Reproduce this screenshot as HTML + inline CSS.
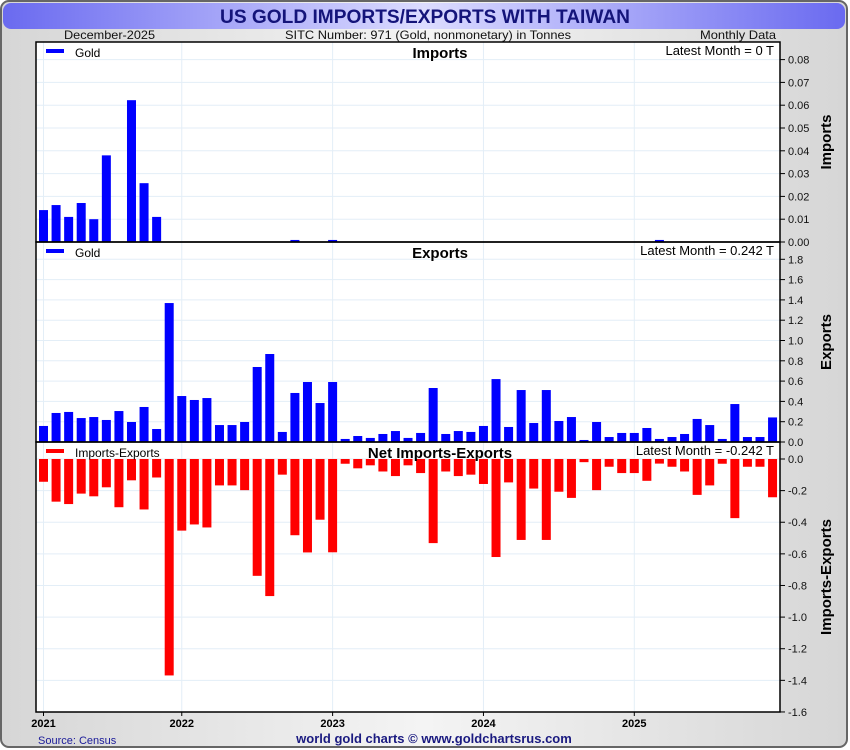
<!DOCTYPE html>
<html><head><meta charset="utf-8">
<style>
body{margin:0;width:850px;height:750px;overflow:hidden;background:#fff;font-family:"Liberation Sans",sans-serif;}
svg{display:block}
</style></head>
<body>
<svg id="chart" width="850" height="750" xmlns="http://www.w3.org/2000/svg" font-family="Liberation Sans, sans-serif">
<defs>
<linearGradient id="bg" x1="0" y1="0" x2="1" y2="0">
<stop offset="0" stop-color="#d6d6d6"/><stop offset="0.5" stop-color="#f4f4f4"/><stop offset="1" stop-color="#d6d6d6"/></linearGradient>
<linearGradient id="tb" x1="0" y1="0" x2="1" y2="0">
<stop offset="0" stop-color="#6a6af0"/><stop offset="0.5" stop-color="#dcdcff"/><stop offset="1" stop-color="#6a6af0"/></linearGradient>
</defs>
<rect x="1" y="1" width="846" height="746" rx="8" fill="url(#bg)" stroke="#666" stroke-width="2"/>
<rect x="3" y="3" width="842" height="26" rx="8" fill="url(#tb)"/>
<text x="425" y="23" text-anchor="middle" font-size="19" font-weight="bold" fill="#14147a" textLength="410" lengthAdjust="spacingAndGlyphs">US GOLD IMPORTS/EXPORTS WITH TAIWAN</text>
<text x="64" y="39" font-size="12" fill="#111" textLength="91" lengthAdjust="spacingAndGlyphs">December-2025</text>
<text x="285" y="39" font-size="12" fill="#111" textLength="286" lengthAdjust="spacingAndGlyphs">SITC Number: 971 (Gold, nonmonetary) in Tonnes</text>
<text x="700" y="39" font-size="12" fill="#111" textLength="76" lengthAdjust="spacingAndGlyphs">Monthly Data</text>
<rect x="36" y="42" width="744" height="670" fill="#fff"/>
<g id="grid"></g>
<g id="marks"></g>
<g id="axes"></g>
<text x="38" y="744" font-size="11" fill="#1a1a99">Source: Census</text>
<text x="434" y="743" text-anchor="middle" font-size="13" font-weight="bold" fill="#1a1a80">world gold charts © www.goldchartsrus.com</text>
</svg>
<script>
const importsVals=[0.014,0.0162,0.011,0.0171,0.010,0.038,0,0.0622,0.0258,0.011,0,0,0,0,0,0,0,0,0,0,0.0009,0,0,0.0009,0,0,0,0,0,0,0,0,0,0,0,0,0,0,0,0,0,0,0,0,0,0,0,0,0,0.0009,0,0,0,0,0,0,0,0,0];
const exportsVals=[0.158,0.286,0.296,0.236,0.246,0.217,0.305,0.197,0.345,0.128,1.369,0.453,0.414,0.433,0.167,0.167,0.197,0.739,0.867,0.099,0.483,0.591,0.384,0.591,0.03,0.059,0.04,0.079,0.108,0.04,0.089,0.532,0.079,0.108,0.099,0.158,0.62,0.148,0.512,0.187,0.512,0.207,0.246,0.02,0.197,0.049,0.089,0.089,0.138,0.03,0.049,0.079,0.227,0.167,0.03,0.374,0.049,0.049,0.242];
const yearLabels=["2021","2022","2023","2024","2025"];
const yearIndex=[0,11,23,35,47];
const importTicks=[0,0.01,0.02,0.03,0.04,0.05,0.06,0.07,0.08];
const exportTicks=[0,0.2,0.4,0.6,0.8,1.0,1.2,1.4,1.6,1.8];
const netTicks=[0,-0.2,-0.4,-0.6,-0.8,-1.0,-1.2,-1.4,-1.6];

const NS="http://www.w3.org/2000/svg";
const L=36,R=780;
function x(i){return 43.5+i*12.57;}
function yImp(v){return 242-v*2280;}
function yExp(v){return 442-v*101.5;}
function yNet(v){return 459-v*158.1;}
function mk(tag,attrs,parent,txt){const e=document.createElementNS(NS,tag);for(const k in attrs)e.setAttribute(k,attrs[k]);if(txt!==undefined)e.textContent=txt;document.getElementById(parent).appendChild(e);return e;}
const panels=[{top:42,bot:242,f:yImp,ticks:importTicks,fmt:v=>v.toFixed(2),name:"imports",title:"Imports",lbl:"Latest Month = 0 T",leg:"Gold",col:"#0000ff",axis:"Imports"},
{top:242,bot:442,f:yExp,ticks:exportTicks,fmt:v=>v.toFixed(1),name:"exports",title:"Exports",lbl:"Latest Month = 0.242 T",leg:"Gold",col:"#0000ff",axis:"Exports"},
{top:442,bot:712,f:yNet,ticks:netTicks,fmt:v=>v.toFixed(1),name:"net",title:"Net Imports-Exports",lbl:"Latest Month = -0.242 T",leg:"Imports-Exports",col:"#ff0000",axis:"Imports-Exports"}];
panels.forEach(p=>{
  p.ticks.forEach(t=>{const y=p.f(t);
    let g=mk("line",{x1:L,x2:R,y1:y,y2:y,stroke:"#e3eef7","stroke-width":1},"grid");
    
    
    let tk=mk("line",{x1:R,x2:R+5,y1:y,y2:y,stroke:"#000"},"axes");
    
    
    let tl=mk("text",{x:R+8,y:y+4,"font-size":11,fill:"#111"},"axes",p.fmt(t).replace("-0.0","0.0"));
    
    
  });
  yearIndex.forEach(i=>{let g=mk("line",{x1:x(i),x2:x(i),y1:p.top,y2:p.bot,stroke:"#e3eef7"},"grid");
    
    });
  let r=mk("rect",{x:L,y:p.top,width:R-L,height:p.bot-p.top,fill:"none",stroke:"#000","stroke-width":1.5},"axes");
  
  
  let t=mk("text",{x:440,y:p.top+16,"text-anchor":"middle","font-size":15,"font-weight":"bold"},"axes",p.title);
  
  
  let lm=mk("text",{x:774,y:p.top+13,"text-anchor":"end","font-size":13},"axes",p.lbl);
  
  
  let ls=mk("rect",{x:46,y:p.top+7,width:18,height:4,fill:p.col},"axes");
  
  
  let lt=mk("text",{x:75,y:p.top+15,"font-size":12},"axes",p.leg);
  
  
  const cy=(p.top+p.bot)/2;
  let at=mk("text",{x:831,y:cy,"text-anchor":"middle","font-size":15,"font-weight":"bold",transform:`rotate(-90 831 ${cy})`},"axes",p.axis);
  
  
});
function bar(i,v,f,col,name){
  const y0=f(0),y1=f(v);
  const b=mk("rect",{x:x(i)-4.5,y:Math.min(y0,y1),width:9,height:Math.abs(y1-y0),fill:col},"marks");
  
  
}
importsVals.forEach((v,i)=>{if(v>0)bar(i,v,yImp,"#0000ff","imports-bar");});
exportsVals.forEach((v,i)=>bar(i,v,yExp,"#0000ff","exports-bar"));
exportsVals.forEach((v,i)=>bar(i,(importsVals[i]||0)-v,yNet,"#ff0000","net-bar"));
yearIndex.forEach((i,k)=>{
  let tk=mk("line",{x1:x(i),x2:x(i),y1:712,y2:716,stroke:"#000"},"axes");
  
  
  let tl=mk("text",{x:x(i),y:727,"text-anchor":"middle","font-size":11,"font-weight":"bold"},"axes",yearLabels[k]);
  
  
});
</script>
</body></html>
